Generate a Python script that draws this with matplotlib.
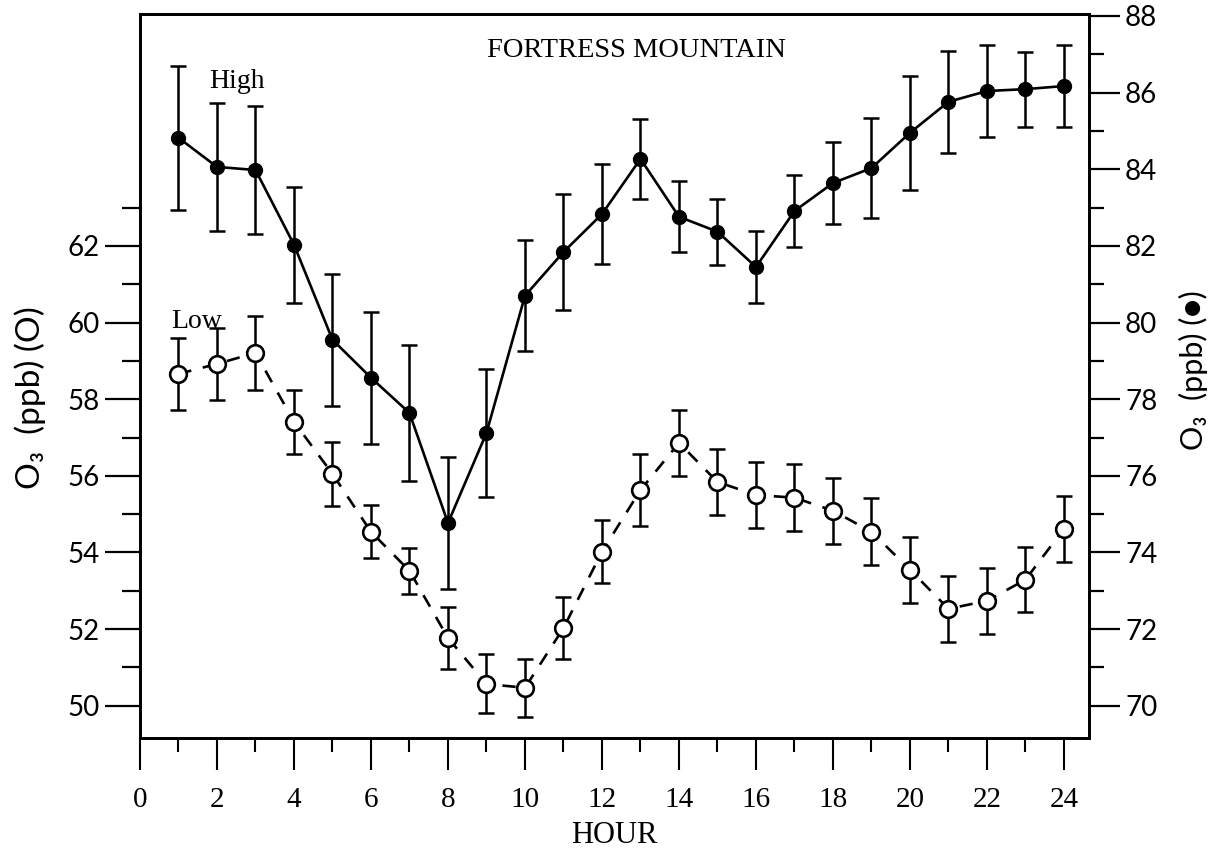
import matplotlib
matplotlib.use("Agg")
import matplotlib.pyplot as plt
from matplotlib.ticker import FixedLocator

# Hourly mean ozone with error bars, Fortress Mountain
hours = list(range(1, 25))

# low-ozone days (left axis, open circles)
low = [58.66, 58.92, 59.21, 57.41, 56.05, 54.54, 53.52, 51.77, 50.57, 50.47,
       52.03, 54.02, 55.63, 56.86, 55.84, 55.50, 55.43, 55.09, 54.54, 53.55,
       52.53, 52.74, 53.29, 54.62]
low_err = [0.94, 0.94, 0.97, 0.83, 0.83, 0.69, 0.60, 0.80, 0.77, 0.76,
           0.82, 0.82, 0.93, 0.86, 0.85, 0.87, 0.87, 0.86, 0.87, 0.86,
           0.86, 0.86, 0.85, 0.86]

# high-ozone days (right axis, filled circles)
high = [84.82, 84.06, 83.98, 82.03, 79.55, 78.56, 77.64, 74.77, 77.12, 80.70,
        81.84, 82.83, 84.27, 82.76, 82.37, 81.45, 82.91, 83.64, 84.03, 84.95,
        85.76, 86.04, 86.09, 86.17]
high_err = [1.88, 1.66, 1.68, 1.51, 1.72, 1.72, 1.77, 1.72, 1.67, 1.45,
            1.51, 1.30, 1.04, 0.93, 0.86, 0.95, 0.94, 1.07, 1.30, 1.49,
            1.33, 1.21, 0.98, 1.06]

x_major = list(range(0, 25, 2))
x_minor = list(range(1, 24, 2))
left_major = list(range(50, 63, 2))
left_minor = list(range(51, 64, 2))
right_major = list(range(70, 89, 2))
right_minor = list(range(71, 88, 2))

SERIF = "Liberation Serif"
SANS = ["Lato", "DejaVu Sans"]

fig = plt.figure(figsize=(12.19, 8.52), dpi=100)
ax = fig.add_axes([140 / 1219, 1 - 738 / 852, 949 / 1219, 724 / 852])
ax2 = ax.twinx()

# Low series: dashed line, open circles
ax.errorbar(hours, low, yerr=low_err, fmt="none", ecolor="black",
            elinewidth=1.8, capsize=5.5, capthick=1.8, zorder=2)
ax.plot(hours, low, color="black", lw=1.9, ls=(0, (5, 4.5)),
        marker="o", ms=12, mfc="white", mec="black", mew=1.9, zorder=3)

# High series: solid line, filled circles
ax2.errorbar(hours, high, yerr=high_err, fmt="none", ecolor="black",
             elinewidth=1.8, capsize=5.5, capthick=1.8, zorder=2)
ax2.plot(hours, high, color="black", lw=1.9, ls="-",
         marker="o", ms=10, mfc="black", mec="black", zorder=3)

ax.set_xlim(0, 24.65)
ax.set_ylim(49.16, 68.05)
ax2.set_ylim(69.16, 88.05)

ax.xaxis.set_major_locator(FixedLocator(x_major))
ax.xaxis.set_minor_locator(FixedLocator(x_minor))
ax.yaxis.set_major_locator(FixedLocator(left_major))
ax.yaxis.set_minor_locator(FixedLocator(left_minor))
ax2.yaxis.set_major_locator(FixedLocator(right_major))
ax2.yaxis.set_minor_locator(FixedLocator(right_minor))

ax.tick_params(axis="x", which="major", direction="out", length=23, width=1.5,
               pad=12, labelsize=21, labelfontfamily=SERIF, top=False)
ax.tick_params(axis="x", which="minor", direction="out", length=10, width=1.5,
               top=False)
ax.tick_params(axis="y", which="major", direction="out", length=25, width=1.6,
               pad=4, labelsize=20, labelfontfamily="Lato")
ax.tick_params(axis="y", which="minor", direction="out", length=13, width=1.6)
ax2.tick_params(axis="y", which="major", direction="out", length=22, width=1.6,
                pad=4, labelsize=20, labelfontfamily="Lato")
ax2.tick_params(axis="y", which="minor", direction="out", length=11, width=1.6)

for a in (ax, ax2):
    for s in a.spines.values():
        s.set_linewidth(2.0)

ax.set_xlabel("HOUR", fontfamily=SERIF, fontsize=22, labelpad=6)

fig.text(30 / 1219, 1 - 398 / 852, "O\u2083  (ppb) (O)", rotation=90,
         ha="center", va="center", fontsize=24, family=SANS)
fig.text(1193 / 1219, 1 - 370 / 852, "O\u2083  (ppb) (\u25cf)", rotation=90,
         ha="center", va="center", fontsize=22, family=SANS)

ax.text(0.523, 0.950, "FORTRESS MOUNTAIN", transform=ax.transAxes,
        ha="center", va="center", fontsize=20.5, fontfamily=SERIF)
ax.text(1.80, 66.12, "High", ha="left", va="baseline", fontsize=20,
        fontfamily=SERIF)
ax.text(0.80, 59.86, "Low", ha="left", va="baseline", fontsize=20,
        fontfamily=SERIF)

fig.savefig("out.png", dpi=100)
